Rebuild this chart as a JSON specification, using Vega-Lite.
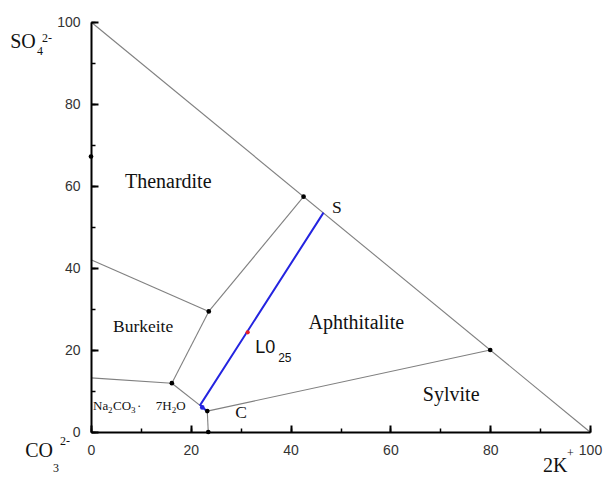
{
  "$schema": "https://vega.github.io/schema/vega-lite/v6.json",
  "autosize": "none",
  "width": 499,
  "height": 410,
  "padding": {"left": 91, "top": 22, "right": 13, "bottom": 45},
  "background": "white",
  "config": {
    "view": {"stroke": null},
    "axis": {
      "grid": false,
      "labelFont": "Liberation Sans",
      "labelFontSize": 14,
      "labelColor": "#333333",
      "labelFlush": false,
      "labelOverlap": false
    }
  },
  "resolve": {"axis": {"x": "independent", "y": "independent"}},
  "layer": [
    {
      "data": {"values": [
        {"x": 0, "y": 100, "x2": 100, "y2": 0},
        {"x": 0, "y": 42, "x2": 23.6, "y2": 29.4},
        {"x": 23.6, "y": 29.4, "x2": 42.6, "y2": 57.4},
        {"x": 23.6, "y": 29.4, "x2": 16.2, "y2": 11.9},
        {"x": 0, "y": 13.2, "x2": 16.2, "y2": 11.9},
        {"x": 16.2, "y": 11.9, "x2": 23.3, "y2": 5.1},
        {"x": 23.3, "y": 5.1, "x2": 23.5, "y2": 0},
        {"x": 23.3, "y": 5.1, "x2": 80, "y2": 20}
      ]},
      "mark": {"type": "rule", "color": "#808080", "strokeWidth": 1.1},
      "encoding": {
        "x": {"field": "x", "type": "quantitative", "scale": {"domain": [0, 100], "nice": false},
              "axis": {"orient": "bottom", "title": null, "values": [0, 10, 20, 30, 40, 50, 60, 70, 80, 90, 100],
                       "labelExpr": "datum.value % 20 == 0 ? datum.label : ''",
                       "ticks": true, "tickSize": -4, "tickWidth": 1.5, "tickColor": "#000000", "labelPadding": 15,
                       "domain": true, "domainColor": "#000000", "domainWidth": 2, "zindex": 1}},
        "y": {"field": "y", "type": "quantitative", "scale": {"domain": [0, 100], "nice": false},
              "axis": {"orient": "left", "title": null, "values": [0, 10, 20, 30, 40, 50, 60, 70, 80, 90, 100],
                       "labelExpr": "datum.value % 20 == 0 ? datum.label : ''",
                       "ticks": true, "tickSize": -4, "tickWidth": 1.5, "tickColor": "#000000", "labelPadding": 15,
                       "domain": true, "domainColor": "#000000", "domainWidth": 2, "zindex": 1}},
        "x2": {"field": "x2"},
        "y2": {"field": "y2"}
      }
    },
    {
      "data": {"values": [
        {"x": 46.6, "y": 53.5, "o": 1},
        {"x": 21.9, "y": 6.6, "o": 2},
        {"x": 23.0, "y": 5.3, "o": 3}
      ]},
      "mark": {"type": "line", "color": "#2424e0", "strokeWidth": 2},
      "encoding": {
        "x": {"field": "x", "type": "quantitative",
              "axis": {"orient": "top", "title": null, "offset": -410, "values": [0, 20, 40, 60, 80, 100], "ticks": true, "tickSize": 7, "tickWidth": 2, "tickColor": "#000000", "labels": false, "domain": false, "zindex": 1}},
        "y": {"field": "y", "type": "quantitative",
              "axis": {"orient": "right", "title": null, "offset": -499, "values": [0, 20, 40, 60, 80, 100], "ticks": true, "tickSize": 7, "tickWidth": 2, "tickColor": "#000000", "labels": false, "domain": false, "zindex": 1}},
        "order": {"field": "o"}
      }
    },
    {
      "data": {"values": [{"x": 22.3, "y": 6.0}]},
      "mark": {"type": "point", "filled": true, "color": "#2424e0", "size": 22, "opacity": 1},
      "encoding": {
        "x": {"field": "x", "type": "quantitative", "axis": null},
        "y": {"field": "y", "type": "quantitative", "axis": null}
      }
    },
    {
      "data": {"values": [
        {"x": 42.6, "y": 57.4},
        {"x": 80, "y": 20},
        {"x": 23.6, "y": 29.4},
        {"x": 16.2, "y": 11.9},
        {"x": 23.3, "y": 5.1},
        {"x": 23.5, "y": 0},
        {"x": 0, "y": 67.2}
      ]},
      "mark": {"type": "point", "filled": true, "color": "black", "size": 22, "opacity": 1},
      "encoding": {
        "x": {"field": "x", "type": "quantitative", "axis": null},
        "y": {"field": "y", "type": "quantitative", "axis": null}
      }
    },
    {
      "data": {"values": [{"x": 31.4, "y": 24.3}]},
      "mark": {"type": "point", "filled": true, "color": "#e8202a", "size": 18, "opacity": 1},
      "encoding": {
        "x": {"field": "x", "type": "quantitative", "axis": null},
        "y": {"field": "y", "type": "quantitative", "axis": null}
      }
    },
    {
      "data": {"values": [
        {"label": "Thenardite", "x": 6.8, "y": 59.5},
        {"label": "Aphthitalite", "x": 43.6, "y": 25.1},
        {"label": "Sylvite", "x": 66.5, "y": 7.6},
        {"label": "SO", "x": -16.2, "y": 93.7},
        {"label": "CO", "x": -13.2, "y": -6.1},
        {"label": "2K", "x": 90.6, "y": -9.8}
      ]},
      "mark": {"type": "text", "font": "Liberation Serif", "fontSize": 20, "align": "left", "baseline": "alphabetic", "color": "#111111"},
      "encoding": {
        "x": {"field": "x", "type": "quantitative", "axis": null},
        "y": {"field": "y", "type": "quantitative", "axis": null},
        "text": {"field": "label"}
      }
    },
    {
      "data": {"values": [
        {"label": "Burkeite", "x": 4.4, "y": 24.4},
        {"label": "S", "x": 48.3, "y": 53.4},
        {"label": "C", "x": 28.9, "y": 3.4}
      ]},
      "mark": {"type": "text", "font": "Liberation Serif", "fontSize": 17.5, "align": "left", "baseline": "alphabetic", "color": "#111111"},
      "encoding": {
        "x": {"field": "x", "type": "quantitative", "axis": null},
        "y": {"field": "y", "type": "quantitative", "axis": null},
        "text": {"field": "label"}
      }
    },
    {
      "data": {"values": [
        {"label": "4", "x": -10.8, "y": 92.0},
        {"label": "2-", "x": -9.8, "y": 95.1},
        {"label": "3", "x": -7.6, "y": -9.8},
        {"label": "2-", "x": -6.2, "y": -3.2},
        {"label": "+", "x": 95.4, "y": -6.1}
      ]},
      "mark": {"type": "text", "font": "Liberation Serif", "fontSize": 12, "align": "left", "baseline": "alphabetic", "color": "#111111"},
      "encoding": {
        "x": {"field": "x", "type": "quantitative", "axis": null},
        "y": {"field": "y", "type": "quantitative", "axis": null},
        "text": {"field": "label"}
      }
    },
    {
      "data": {"values": [
        {"label": "Na", "x": 0.4, "y": 5.4},
        {"label": "CO", "x": 4.4, "y": 5.4},
        {"label": "·", "x": 9.2, "y": 5.4},
        {"label": "7H", "x": 13.0, "y": 5.4},
        {"label": "O", "x": 17.1, "y": 5.4}
      ]},
      "mark": {"type": "text", "font": "Liberation Serif", "fontSize": 13, "align": "left", "baseline": "alphabetic", "color": "#111111"},
      "encoding": {
        "x": {"field": "x", "type": "quantitative", "axis": null},
        "y": {"field": "y", "type": "quantitative", "axis": null},
        "text": {"field": "label"}
      }
    },
    {
      "data": {"values": [
        {"label": "2", "x": 3.4, "y": 4.6},
        {"label": "3", "x": 8.0, "y": 4.6},
        {"label": "2", "x": 16.2, "y": 4.6}
      ]},
      "mark": {"type": "text", "font": "Liberation Serif", "fontSize": 9, "align": "left", "baseline": "alphabetic", "color": "#111111"},
      "encoding": {
        "x": {"field": "x", "type": "quantitative", "axis": null},
        "y": {"field": "y", "type": "quantitative", "axis": null},
        "text": {"field": "label"}
      }
    },
    {
      "data": {"values": [{"label": "L0", "x": 32.9, "y": 19.3}]},
      "mark": {"type": "text", "font": "Liberation Sans", "fontSize": 18, "align": "left", "baseline": "alphabetic", "color": "#111111"},
      "encoding": {
        "x": {"field": "x", "type": "quantitative", "axis": null},
        "y": {"field": "y", "type": "quantitative", "axis": null},
        "text": {"field": "label"}
      }
    },
    {
      "data": {"values": [{"label": "25", "x": 37.5, "y": 17.1}]},
      "mark": {"type": "text", "font": "Liberation Sans", "fontSize": 12, "align": "left", "baseline": "alphabetic", "color": "#111111"},
      "encoding": {
        "x": {"field": "x", "type": "quantitative", "axis": null},
        "y": {"field": "y", "type": "quantitative", "axis": null},
        "text": {"field": "label"}
      }
    }
  ]
}
